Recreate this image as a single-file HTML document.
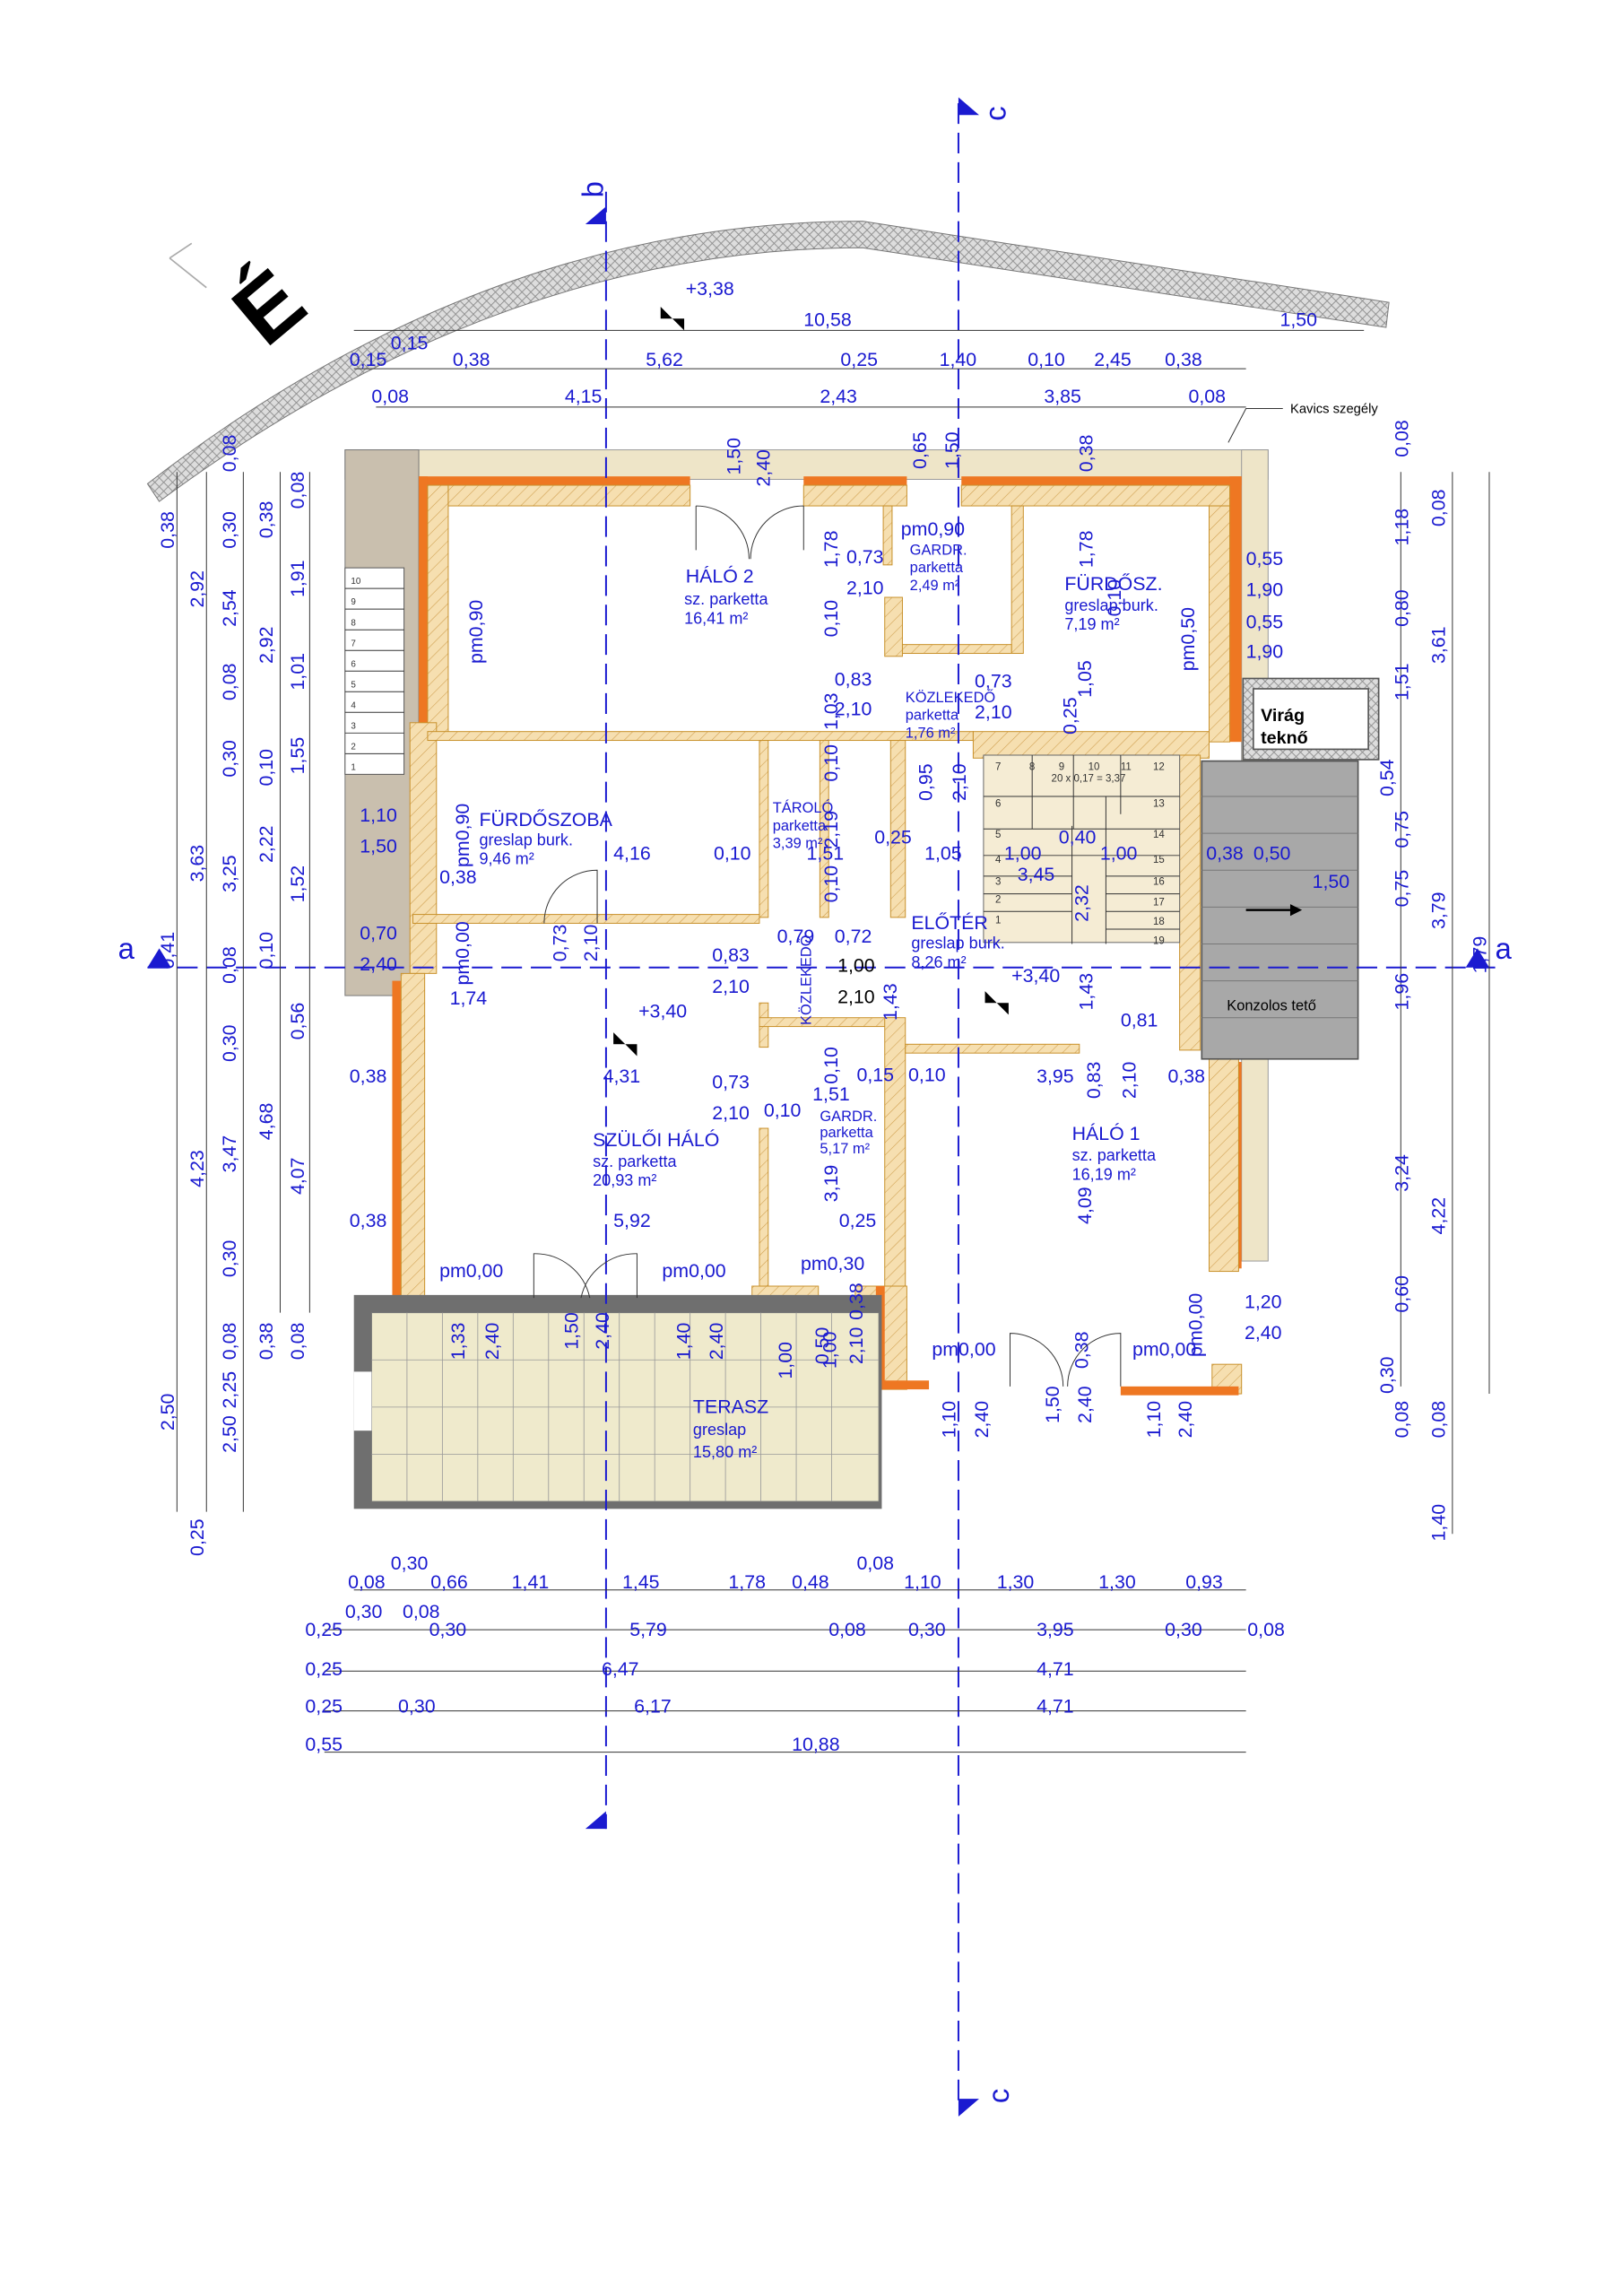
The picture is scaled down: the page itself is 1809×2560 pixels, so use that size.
<!DOCTYPE html>
<html><head><meta charset="utf-8"><style>
html,body{margin:0;padding:0;background:#fff;}
svg{display:block}
text{font-family:"Liberation Sans",sans-serif;}
.b{fill:#1a1ad0;font-size:13px}
.s{fill:#1a1ad0;font-size:10px}
.k{fill:#000;font-size:13px}
.d{stroke:#333;stroke-width:0.6;fill:none}
.o{fill:#ee7722}
</style></head><body>
<svg width="1809" height="2560" viewBox="0 0 1100 1556.7" xmlns="http://www.w3.org/2000/svg">
<defs>
<pattern id="x" width="6" height="6" patternUnits="userSpaceOnUse"><rect width="6" height="6" fill="#ddd"/><path d="M0 0L6 6M6 0L0 6" stroke="#888" stroke-width="0.5"/></pattern>
<pattern id="h" width="6" height="6" patternUnits="userSpaceOnUse" patternTransform="rotate(45)"><rect width="6" height="6" fill="#f6dfb0"/><line x1="0" y1="0" x2="0" y2="6" stroke="#d0a050" stroke-width="0.7"/></pattern>
</defs>
<path d="M100 328 Q330 150 585 150 L942 205 L940 222 L585 168 Q340 168 108 340Z" fill="url(#x)" stroke="#777" stroke-width="0.6"/>
<text x="165" y="235" font-size="60" font-weight="bold" transform="rotate(-40 175 215)" font-family="Liberation Sans">É</text>
<path d="M115 175 L140 195 M115 175 L130 165" stroke="#aaa" fill="none"/>
<rect x="234" y="305" width="626" height="20" fill="#eee5c8" stroke="#999" stroke-width="0.6"/>
<rect x="842" y="305" width="18" height="550" fill="#eee5c8" stroke="#999" stroke-width="0.6"/>
<rect x="234" y="305" width="50" height="370" fill="#c9bfae" stroke="#777" stroke-width="0.6"/>
<rect x="234" y="385" width="40" height="140" fill="#fff" stroke="#555" stroke-width="0.6"/>
<g class="d" stroke-width="0.4"><path d="M234 399h40M234 413h40M234 427h40M234 441h40M234 455h40M234 469h40M234 483h40M234 497h40M234 511h40"/></g>
<g font-size="6" fill="#333"><text x="238" y="396">10</text><text x="238" y="410">9</text><text x="238" y="424">8</text><text x="238" y="438">7</text><text x="238" y="452">6</text><text x="238" y="466">5</text><text x="238" y="480">4</text><text x="238" y="494">3</text><text x="238" y="508">2</text><text x="238" y="522">1</text></g>
<rect x="284" y="323" width="184" height="6" class="o"/>
<rect x="545" y="323" width="70" height="6" class="o"/>
<rect x="652" y="323" width="190" height="6" class="o"/>
<rect x="834" y="323" width="8" height="180" class="o"/>
<rect x="284" y="323" width="6" height="170" class="o"/>
<rect x="266" y="665" width="6" height="225" class="o"/>
<rect x="834" y="720" width="8" height="140" class="o"/>
<g fill="url(#h)" stroke="#c8902a" stroke-width="0.6">
<rect x="290" y="329" width="14" height="170"/>
<rect x="304" y="329" width="164" height="14"/>
<rect x="545" y="329" width="70" height="14"/>
<rect x="652" y="329" width="182" height="14"/>
<rect x="820" y="343" width="14" height="160"/>
<rect x="686" y="343" width="8" height="100"/>
<rect x="278" y="490" width="18" height="170"/>
<rect x="272" y="660" width="16" height="230"/>
<rect x="290" y="496" width="370" height="6"/>
<rect x="599" y="343" width="6" height="40"/>
<rect x="600" y="405" width="12" height="40"/>
<rect x="612" y="437" width="74" height="6"/>
<rect x="515" y="502" width="6" height="120"/>
<rect x="556" y="502" width="6" height="120"/>
<rect x="604" y="502" width="10" height="120"/>
<rect x="660" y="496" width="160" height="18"/>
<rect x="800" y="512" width="14" height="200"/>
<rect x="280" y="620" width="125" height="6"/>
<rect x="405" y="620" width="110" height="6"/>
<rect x="515" y="680" width="6" height="30"/>
<rect x="515" y="765" width="6" height="110"/>
<rect x="515" y="690" width="95" height="6"/>
<rect x="600" y="690" width="14" height="190"/>
<rect x="614" y="708" width="118" height="6"/>
<rect x="820" y="712" width="20" height="150"/>
<rect x="510" y="872" width="45" height="16"/>
<rect x="580" y="872" width="35" height="70"/>
<rect x="822" y="925" width="20" height="20"/>
<rect x="288" y="880" width="72" height="6"/>
<rect x="432" y="880" width="78" height="6"/>
</g>
<rect x="594" y="872" width="6" height="70" class="o"/>
<rect x="594" y="936" width="36" height="6" class="o"/>
<rect x="760" y="940" width="80" height="6" class="o"/>
<rect x="667" y="512" width="133" height="127" fill="#f5ecd4" stroke="#666" stroke-width="0.6"/>
<g class="d" stroke-width="0.4"><path d="M667 540h133M667 562h133M667 580h133M667 594h60M667 606h60M667 618h60M750 594h50M750 606h50M750 618h50M750 630h50M700 512v50M728 512v50M750 540v100M727 560v80M760 512v40"/></g>
<g font-size="7" fill="#333"><text x="675" y="522">7</text><text x="698" y="522">8</text><text x="718" y="522">9</text><text x="738" y="522">10</text><text x="760" y="522">11</text><text x="782" y="522">12</text><text x="675" y="547">6</text><text x="675" y="568">5</text><text x="675" y="585">4</text><text x="675" y="600">3</text><text x="675" y="612">2</text><text x="675" y="626">1</text><text x="782" y="547">13</text><text x="782" y="568">14</text><text x="782" y="585">15</text><text x="782" y="600">16</text><text x="782" y="614">17</text><text x="782" y="627">18</text><text x="782" y="640">19</text><text x="713" y="530">20 x 0,17 = 3,37</text></g>
<rect x="815" y="516" width="106" height="202" fill="#a8a8a8" stroke="#555"/>
<g stroke="#777" stroke-width="0.6"><path d="M815 540h106M815 565h106M815 590h106M815 615h106M815 640h106M815 665h106M815 690h106"/></g>
<path d="M845 617h30" stroke="#000" stroke-width="1.5"/><path d="M875 613l8 4-8 4z"/>
<text x="832" y="685" font-size="10">Konzolos tető</text>
<rect x="843" y="460" width="92" height="55" fill="url(#x)" stroke="#555"/>
<rect x="850" y="467" width="78" height="41" fill="#fff" stroke="#555"/>
<text x="855" y="489" font-size="12" font-weight="bold">Virág</text><text x="855" y="504" font-size="12" font-weight="bold">teknő</text>
<text x="875" y="280" font-size="9">Kavics szegély</text><path d="M870 277 L845 277 L833 300" class="d"/>
<rect x="240" y="878" width="358" height="145" fill="#6f6f6f"/>
<rect x="252" y="890" width="344" height="128" fill="#efeacc" stroke="#777" stroke-width="0.6"/>
<g stroke="#999" stroke-width="0.5"><path d="M252 922h344M252 954h344M252 986h344M276 890v128M300 890v128M324 890v128M348 890v128M372 890v128M396 890v128M420 890v128M444 890v128M468 890v128M492 890v128M516 890v128M540 890v128M564 890v128"/></g>
<rect x="240" y="930" width="12" height="40" fill="#fff"/>
<g stroke="#1a1ad0" stroke-width="1.2" stroke-dasharray="14 6" fill="none">
<line x1="411" y1="130" x2="411" y2="1240"/>
<line x1="650" y1="70" x2="650" y2="1425"/>
<line x1="100" y1="656" x2="1015" y2="656"/>
</g>
<g fill="#1a1ad0">
<path d="M397 152 L411 140 L411 152Z"/><path d="M397 1240 L411 1228 L411 1240Z"/>
<path d="M650 66 L664 78 L650 78Z"/><path d="M650 1435 L664 1423 L650 1423Z"/>
<path d="M100 656 L108 643 L116 656Z"/><path d="M994 656 L1002 643 L1010 656Z"/>
</g>
<g fill="#1a1ad0" style="font-size:20px">
<text x="395" y="132" transform="rotate(-90 403 126)">b</text>
<text x="670" y="82" transform="rotate(-90 676 76)">c</text>
<text x="670" y="1428" transform="rotate(-90 676 1420)">c</text>
<text x="80" y="650">a</text><text x="1014" y="650">a</text>
</g>
<g class="d">
<path d="M240 224H925M240 250H845M255 276H845M240 1078H845M220 1105H845M220 1133H845M220 1160H845M220 1188H845"/>
<path d="M120 320V1025M140 320V1025M165 320V1025M190 320V890M210 320V890M950 320V940M985 320V1040M1010 320V945"/>
</g>
<g class="b">
<text x="465" y="395">HÁLÓ 2</text><text x="464" y="410" font-size="11">sz. parketta</text><text x="464" y="423" font-size="11">16,41 m²</text>
<text x="722" y="400">FÜRDŐSZ.</text><text x="722" y="414" font-size="11">greslap burk.</text><text x="722" y="427" font-size="11">7,19 m²</text>
<text x="325" y="560">FÜRDŐSZOBA</text><text x="325" y="573" font-size="11">greslap burk.</text><text x="325" y="586" font-size="11">9,46 m²</text>
<text x="402" y="777">SZÜLŐI HÁLÓ</text><text x="402" y="791" font-size="11">sz. parketta</text><text x="402" y="804" font-size="11">20,93 m²</text>
<text x="727" y="773">HÁLÓ 1</text><text x="727" y="787" font-size="11">sz. parketta</text><text x="727" y="800" font-size="11">16,19 m²</text>
<text x="470" y="958">TERASZ</text><text x="470" y="973" font-size="11">greslap</text><text x="470" y="988" font-size="11">15,80 m²</text>
<text x="618" y="630">ELŐTÉR</text><text x="618" y="643" font-size="11">greslap burk.</text><text x="618" y="656" font-size="11">8,26 m²</text>
</g>
<g class="s">
<text x="617" y="376">GARDR.</text><text x="617" y="388">parketta</text><text x="617" y="400">2,49 m²</text>
<text x="614" y="476">KÖZLEKEDŐ</text><text x="614" y="488">parketta</text><text x="614" y="500">1,76 m²</text>
<text x="524" y="551">TÁROLÓ</text><text x="524" y="563">parketta</text><text x="524" y="575">3,39 m²</text>
<text x="556" y="760">GARDR.</text><text x="556" y="771">parketta</text><text x="556" y="782">5,17 m²</text>
</g>
<g class="b">
<text x="545" y="221">10,58</text><text x="868" y="221">1,50</text><text x="465" y="200">+3,38</text>
<text x="265" y="237">0,15</text><text x="237" y="248">0,15</text><text x="307" y="248">0,38</text><text x="438" y="248">5,62</text><text x="570" y="248">0,25</text><text x="637" y="248">1,40</text><text x="697" y="248">0,10</text><text x="742" y="248">2,45</text><text x="790" y="248">0,38</text>
<text x="252" y="273">0,08</text><text x="383" y="273">4,15</text><text x="556" y="273">2,43</text><text x="708" y="273">3,85</text><text x="806" y="273">0,08</text>
<text x="611" y="363">pm0,90</text><text x="574" y="382">0,73</text><text x="574" y="403">2,10</text>
<text x="566" y="465">0,83</text><text x="566" y="485">2,10</text><text x="661" y="466">0,73</text><text x="661" y="487">2,10</text>
<text x="845" y="383">0,55</text><text x="845" y="404">1,90</text><text x="845" y="426">0,55</text><text x="845" y="446">1,90</text>
<text x="244" y="557">1,10</text><text x="244" y="578">1,50</text><text x="298" y="599">0,38</text><text x="416" y="583">4,16</text><text x="484" y="583">0,10</text><text x="547" y="583">1,51</text><text x="593" y="572">0,25</text><text x="627" y="583">1,05</text><text x="681" y="583">1,00</text><text x="746" y="583">1,00</text><text x="690" y="597">3,45</text><text x="718" y="572">0,40</text><text x="818" y="583">0,38</text><text x="850" y="583">0,50</text><text x="890" y="602">1,50</text>
<text x="244" y="637">0,70</text><text x="244" y="658">2,40</text><text x="305" y="681">1,74</text><text x="483" y="652">0,83</text><text x="483" y="673">2,10</text><text x="527" y="639">0,79</text><text x="566" y="639">0,72</text><text x="433" y="690">+3,40</text><text x="686" y="666">+3,40</text><text x="760" y="696">0,81</text>
<text x="237" y="734">0,38</text><text x="409" y="734">4,31</text><text x="483" y="738">0,73</text><text x="483" y="759">2,10</text><text x="518" y="757">0,10</text><text x="551" y="746">1,51</text><text x="581" y="733">0,15</text><text x="616" y="733">0,10</text><text x="703" y="734">3,95</text><text x="792" y="734">0,38</text>
<text x="237" y="832">0,38</text><text x="416" y="832">5,92</text><text x="569" y="832">0,25</text>
<text x="298" y="866">pm0,00</text><text x="449" y="866">pm0,00</text><text x="543" y="861">pm0,30</text><text x="632" y="919">pm0,00</text><text x="768" y="919">pm0,00</text><text x="844" y="887">1,20</text><text x="844" y="908">2,40</text>
<text x="236" y="1077">0,08</text><text x="265" y="1064">0,30</text><text x="292" y="1077">0,66</text><text x="347" y="1077">1,41</text><text x="422" y="1077">1,45</text><text x="494" y="1077">1,78</text><text x="537" y="1077">0,48</text><text x="581" y="1064">0,08</text><text x="613" y="1077">1,10</text><text x="676" y="1077">1,30</text><text x="745" y="1077">1,30</text><text x="804" y="1077">0,93</text>
<text x="234" y="1097">0,30</text><text x="273" y="1097">0,08</text><text x="207" y="1109">0,25</text><text x="291" y="1109">0,30</text><text x="427" y="1109">5,79</text><text x="562" y="1109">0,08</text><text x="616" y="1109">0,30</text><text x="703" y="1109">3,95</text><text x="790" y="1109">0,30</text><text x="846" y="1109">0,08</text>
<text x="207" y="1136">0,25</text><text x="408" y="1136">6,47</text><text x="703" y="1136">4,71</text>
<text x="207" y="1161">0,25</text><text x="270" y="1161">0,30</text><text x="430" y="1161">6,17</text><text x="703" y="1161">4,71</text>
<text x="207" y="1187">0,55</text><text x="537" y="1187">10,88</text>
</g>
<g class="b">
<g transform="rotate(-90)">
<text x="-372" y="118">0,38</text><text x="-412" y="138">2,92</text><text x="-598" y="138">3,63</text><text x="-805" y="138">4,23</text><text x="-970" y="118">2,50</text><text x="-1055" y="138">0,25</text>
<text x="-320" y="160">0,08</text><text x="-372" y="160">0,30</text><text x="-425" y="160">2,54</text><text x="-475" y="160">0,08</text><text x="-527" y="160">0,30</text><text x="-605" y="160">3,25</text><text x="-667" y="160">0,08</text><text x="-720" y="160">0,30</text><text x="-795" y="160">3,47</text><text x="-866" y="160">0,30</text><text x="-922" y="160">0,08</text><text x="-955" y="160">2,25</text><text x="-985" y="160">2,50</text>
<text x="-365" y="185">0,38</text><text x="-450" y="185">2,92</text><text x="-533" y="185">0,10</text><text x="-585" y="185">2,22</text><text x="-657" y="185">0,10</text><text x="-773" y="185">4,68</text><text x="-922" y="185">0,38</text>
<text x="-345" y="206">0,08</text><text x="-405" y="206">1,91</text><text x="-468" y="206">1,01</text><text x="-525" y="206">1,55</text><text x="-612" y="206">1,52</text><text x="-705" y="206">0,56</text><text x="-810" y="206">4,07</text><text x="-922" y="206">0,08</text>
<text x="-657" y="118">0,41</text>
<text x="-310" y="955">0,08</text><text x="-370" y="955">1,18</text><text x="-425" y="955">0,80</text><text x="-475" y="955">1,51</text><text x="-540" y="945">0,54</text><text x="-575" y="955">0,75</text><text x="-615" y="955">0,75</text><text x="-685" y="955">1,96</text><text x="-808" y="955">3,24</text><text x="-890" y="955">0,60</text><text x="-945" y="945">0,30</text><text x="-975" y="955">0,08</text>
<text x="-357" y="980">0,08</text><text x="-450" y="980">3,61</text><text x="-630" y="980">3,79</text><text x="-837" y="980">4,22</text><text x="-975" y="980">0,08</text><text x="-1045" y="980">1,40</text><text x="-660" y="1008">1,79</text>
<text x="-450" y="327">pm0,90</text><text x="-588" y="318">pm0,90</text><text x="-668" y="318">pm0,00</text><text x="-652" y="384">0,73</text><text x="-652" y="405">2,10</text>
<text x="-322" y="502">1,50</text><text x="-330" y="522">2,40</text><text x="-318" y="628">0,65</text><text x="-318" y="650">1,50</text><text x="-320" y="741">0,38</text><text x="-385" y="568">1,78</text><text x="-432" y="568">0,10</text><text x="-495" y="568">1,03</text><text x="-385" y="741">1,78</text><text x="-455" y="810">pm0,50</text><text x="-418" y="760">0,10</text><text x="-473" y="740">1,05</text><text x="-498" y="730">0,25</text><text x="-530" y="568">0,10</text><text x="-575" y="568">2,19</text><text x="-612" y="568">0,10</text>
<text x="-543" y="632">0,95</text><text x="-543" y="655">2,10</text><text x="-625" y="738">2,32</text><text x="-692" y="608">1,43</text><text x="-685" y="741">1,43</text><text x="-735" y="568">0,10</text><text x="-815" y="568">3,19</text><text x="-745" y="746">0,83</text><text x="-745" y="770">2,10</text><text x="-830" y="740">4,09</text>
<text x="-922" y="315">1,33</text><text x="-922" y="338">2,40</text><text x="-915" y="392">1,50</text><text x="-915" y="413">2,40</text><text x="-922" y="468">1,40</text><text x="-922" y="490">2,40</text><text x="-935" y="537">1,00</text><text x="-925" y="562">0,50</text><text x="-928" y="567">1,00</text><text x="-925" y="585">2,10</text><text x="-895" y="585">0,38</text>
<text x="-975" y="648">1,10</text><text x="-975" y="670">2,40</text><text x="-965" y="718">1,50</text><text x="-965" y="740">2,40</text><text x="-928" y="738">0,38</text><text x="-975" y="787">1,10</text><text x="-975" y="808">2,40</text><text x="-920" y="815">pm0,00</text>
</g>
<text x="535" y="700" class="s" transform="rotate(-90 540 690)">KÖZLEKEDŐ</text>
</g>
<g class="k"><text x="568" y="659">1,00</text><text x="568" y="680">2,10</text></g>
<g fill="#000"><path d="M448 208l8 8-8 0zM456 216l8 8 0-8z"/><path d="M416 700l8 8-8 0zM424 708l8 8 0-8z"/><path d="M668 672l8 8-8 0zM676 680l8 8 0-8z"/></g>
<g class="d" stroke-width="0.7"><path d="M472 343v30M545 343v30M472 343a36 36 0 0 1 36 36M545 343a36 36 0 0 0-36 36"/><path d="M362 880v-30a38 38 0 0 1 38 30M432 880v-30a38 38 0 0 0-38 30"/><path d="M685 940v-36a36 36 0 0 1 36 36M760 940v-36a36 36 0 0 0-36 36"/><path d="M405 626v-36a36 36 0 0 0-36 36"/></g>
</svg>
</body></html>
